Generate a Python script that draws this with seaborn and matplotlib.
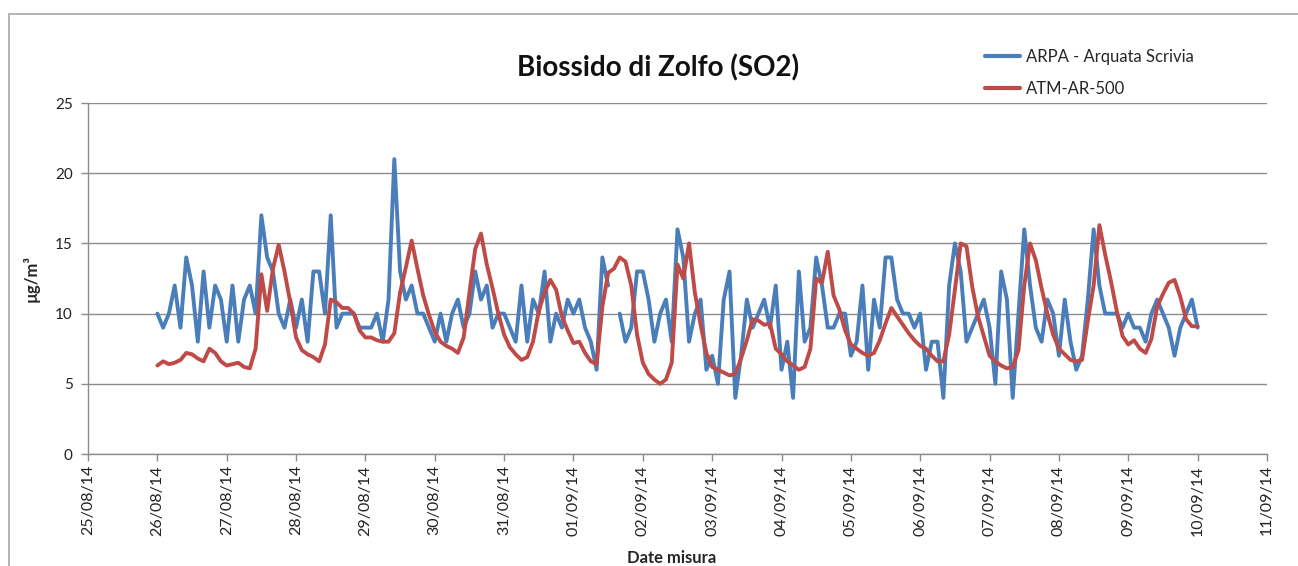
import numpy as np
import pandas as pd
import matplotlib
matplotlib.use("Agg")
import matplotlib.pyplot as plt
import matplotlib.dates as mdates
from matplotlib.patches import Rectangle
import seaborn as sns

# ---------------- data (2-hourly samples from 26/08/14 00:00 to 10/09/14 00:00) ----------------
start_time = "2014-08-26 00:00"
step = "2h"
nan = np.nan

arpa = [
    10, 9, 10, 12, 9, 14, 12, 8, 13, 9, 12, 11,
    8, 12, 8, 11, 12, 10, 17, 14, 13, 10, 9, 11,
    9, 11, 8, 13, 13, 10, 17, 9, 10, 10, 10, 9,
    9, 9, 10, 8, 11, 21, 13, 11, 12, 10, 10, 9,
    8, 10, 8, 10, 11, 9, 10, 13, 11, 12, 9, 10,
    10, 9, 8, 12, 8, 11, 10, 13, 8, 10, 9, 11,
    10, 11, 9, 8, 6, 14, 12, nan, 10, 8, 9, 13,
    13, 11, 8, 10, 11, 8, 16, 14, 8, 10, 11, 6,
    7, 5, 11, 13, 4, 7, 11, 9, 10, 11, 9, 12,
    6, 8, 4, 13, 8, 9, 14, 12, 9, 9, 10, 10,
    7, 8, 12, 6, 11, 9, 14, 14, 11, 10, 10, 9,
    10, 6, 8, 8, 4, 12, 15, 13, 8, 9, 10, 11,
    9, 5, 13, 11, 4, 10, 16, 12, 9, 8, 11, 10,
    7, 11, 8, 6, 7, 11, 16, 12, 10, 10, 10, 9,
    10, 9, 9, 8, 10, 11, 10, 9, 7, 9, 10, 11,
    9,
]

atm = [
    6.3, 6.6, 6.4, 6.5, 6.7, 7.2, 7.1, 6.8, 6.6, 7.5, 7.2, 6.6,
    6.3, 6.4, 6.5, 6.2, 6.1, 7.5, 12.8, 10.2, 13.2, 14.9, 13.0, 10.8,
    8.3, 7.4, 7.1, 6.9, 6.6, 7.8, 11.0, 10.8, 10.4, 10.4, 10.0, 8.8,
    8.3, 8.3, 8.1, 8.0, 8.0, 8.6, 11.5, 13.3, 15.2, 13.2, 11.3, 9.9,
    8.7, 8.0, 7.7, 7.5, 7.2, 8.3, 11.5, 14.6, 15.7, 13.5, 11.8, 10.0,
    8.5, 7.6, 7.1, 6.7, 6.9, 8.0, 10.2, 11.5, 12.4, 11.7, 9.8, 8.8,
    7.9, 8.0, 7.2, 6.6, 6.4, 10.5, 12.9, 13.2, 14.0, 13.7, 12.0, 8.5,
    6.5, 5.7, 5.3, 5.0, 5.3, 6.5, 13.5, 12.5, 15.0, 11.5, 9.2, 7.2,
    6.2, 6.0, 5.8, 5.6, 5.7, 6.8, 8.1, 9.6, 9.5, 9.2, 9.3, 7.5,
    7.1, 6.6, 6.3, 6.0, 6.2, 7.5, 12.5, 12.2, 14.4, 11.3, 10.3, 8.8,
    7.8, 7.5, 7.2, 7.0, 7.2, 8.1, 9.3, 10.4, 9.8, 9.2, 8.6, 8.1,
    7.7, 7.5, 7.0, 6.6, 6.6, 8.5, 11.7, 15.0, 14.8, 11.9, 9.8, 8.4,
    7.0, 6.6, 6.3, 6.1, 6.2, 7.4, 12.0, 15.0, 13.8, 11.8, 10.0, 8.5,
    7.5, 7.1, 6.7, 6.6, 6.7, 9.5, 12.0, 16.3, 14.2, 12.3, 10.2, 8.4,
    7.8, 8.1, 7.5, 7.2, 8.2, 10.5, 11.4, 12.2, 12.4, 11.2, 9.6, 9.1,
    9.1,
]

series_names = ["ARPA - Arquata Scrivia", "ATM-AR-500"]
series_colors = ["#4A7EBB", "#BE4B48"]
y_ticks = [0, 5, 10, 15, 20, 25]
x_first, x_last = "2014-08-25", "2014-09-11"
title = "Biossido di Zolfo (SO2)"
y_label = "µg/m³"
x_label = "Date misura"

# ---------------- build long table ----------------
times = pd.date_range(start_time, periods=len(arpa), freq=step)
frames = []
for name, vals in zip(series_names, [arpa, atm]):
    v = pd.Series(vals, dtype=float)
    seg = v.isna().cumsum()
    frames.append(pd.DataFrame({"t": times, "v": v.values, "serie": name, "seg": seg.values}))
df = pd.concat(frames, ignore_index=True).dropna()

# ---------------- figure ----------------
sns.set_theme(style="white")
plt.rcParams["font.family"] = ["Lato", "DejaVu Sans"]

W, H = 1298, 566
fig = plt.figure(figsize=(W / 100, H / 100), dpi=100)
ax = fig.add_axes([88 / W, 1 - 454 / H, (1267 - 88) / W, (454 - 103) / H])

sns.lineplot(data=df, x="t", y="v", hue="serie", hue_order=series_names,
             units="seg", estimator=None, sort=False,
             palette=series_colors, linewidth=2.8, ax=ax)

grey = "#8c8c8c"
ax.set_xlim(pd.Timestamp(x_first), pd.Timestamp(x_last))
ax.set_ylim(0, 25)
ax.set_yticks(y_ticks)
ax.xaxis.set_major_locator(mdates.DayLocator())
ax.xaxis.set_major_formatter(mdates.DateFormatter("%d/%m/%y"))
ax.yaxis.grid(True, color=grey, linewidth=1.0)
ax.xaxis.grid(False)
ax.set_axisbelow(True)
for s in ["top", "right"]:
    ax.spines[s].set_visible(False)
for s in ["left", "bottom"]:
    ax.spines[s].set_color(grey)
    ax.spines[s].set_linewidth(1.0)
ax.tick_params(axis="both", direction="out", length=5, width=1, color=grey,
               bottom=True, left=True, labelcolor="#222222")
ax.tick_params(axis="y", labelsize=11, pad=6)
ax.tick_params(axis="x", labelsize=11.5, pad=3)
plt.setp(ax.get_xticklabels(), rotation=90, ha="center", va="top")

ax.set_ylabel(y_label, fontsize=12, fontweight="bold")
ax.yaxis.set_label_coords((40 - 88) / 1179, 0.5)
ax.set_xlabel(x_label, fontsize=12, fontweight="bold")
ax.xaxis.set_label_coords((672 - 88) / 1179, (454 - 550) / 351)

fig.text(658 / W, 1 - 68 / H, title, ha="center", va="center",
         fontsize=20, fontweight="bold", color="#111111")

handles, labels = ax.get_legend_handles_labels()
leg = ax.legend(handles, labels, loc="upper left",
                bbox_to_anchor=(970 / W, 1 - 34 / H), bbox_transform=fig.transFigure,
                frameon=False, fontsize=12, handlelength=2.1, handletextpad=0.35,
                labelspacing=0.95)
for h in leg.get_lines():
    h.set_linewidth(3)

fig.add_artist(Rectangle((9 / W, -0.02), 1.0, 1 - 14 / H + 0.02, transform=fig.transFigure,
                         fill=False, edgecolor="#a6a6a6", linewidth=1.2))

fig.savefig("out.png", dpi=100)
